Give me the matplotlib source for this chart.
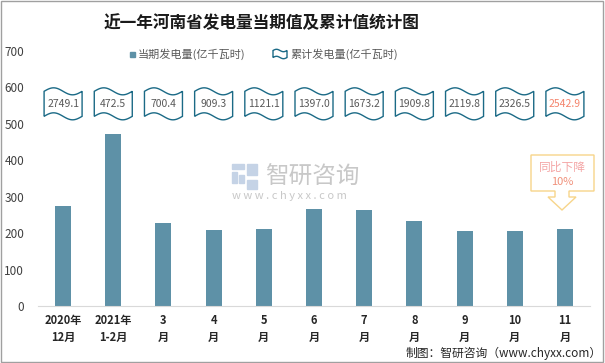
import numpy as np
import matplotlib
matplotlib.use('Agg')
import matplotlib.pyplot as plt
import matplotlib.transforms as transforms
from matplotlib.patches import Polygon, Rectangle

plt.rcParams['font.family'] = ['Noto Sans CJK SC', 'DejaVu Sans']

# data
months = ['2020年\n12月', '2021年\n1-2月', '3\n月', '4\n月', '5\n月', '6\n月',
          '7\n月', '8\n月', '9\n月', '10\n月', '11\n月']
current = [275.4, 472.5, 227.9, 208.9, 211.8, 266.3, 264.5, 233.6, 206.5, 206.7, 212.5]
cumulative = ['2749.1', '472.5', '700.4', '909.3', '1121.1', '1397.0', '1673.2',
              '1909.8', '2119.8', '2326.5', '2542.9']

W, H = 605, 363
fig = plt.figure(figsize=(W / 100, H / 100), dpi=100)

def fx(px):
    return px / W

def fy(py):
    return 1 - py / H

ax = fig.add_axes([fx(38), fy(306), fx(590) - fx(38), fy(51) - fy(306)])
x = np.arange(len(months))
ax.bar(x, current, width=0.32, color='#5e91a7', zorder=2)
ax.set_xlim(-0.5, len(months) - 0.5)
ax.set_ylim(0, 700)
ax.set_yticks(range(0, 701, 100))
ax.set_xticks(x)
ax.set_xticklabels(months, fontsize=8, fontweight='bold', color='#262626', linespacing=1.35)
ax.tick_params(axis='y', length=0, labelsize=8.5, labelcolor='#404040', pad=10)
ax.tick_params(axis='x', length=0, pad=6)
for s in ['top', 'right', 'left']:
    ax.spines[s].set_visible(False)
ax.spines['bottom'].set_color('#d9d9d9')

# flag shaped labels for cumulative values
def flag_verts(w, h, a, n=40):
    t = np.linspace(0, 1, n)
    xs = -w / 2 + w * t
    top = h / 2 + a * np.sin(2 * np.pi * t)
    bot = -h / 2 + a * np.sin(2 * np.pi * t)
    return np.vstack([np.column_stack([xs, top]), np.column_stack([xs[::-1], bot[::-1]])])

fv = flag_verts(0.38, 0.25, 0.035)
for i, v in enumerate(cumulative):
    tr = fig.dpi_scale_trans + transforms.ScaledTranslation(i, 555, ax.transData)
    ax.add_patch(Polygon(fv, closed=True, facecolor='white', edgecolor='#1b6a86',
                         linewidth=1, transform=tr, zorder=3, clip_on=False))
    col = '#f4846c' if i == len(cumulative) - 1 else '#595959'
    ax.text(i, 555, v, ha='center', va='center', fontsize=7.5, color=col, zorder=4)

# title
fig.text(fx(262), fy(23), '近一年河南省发电量当期值及累计值统计图', ha='center', va='center',
         fontsize=12, fontweight='bold', color='#1a1a1a')

# legend
fig.patches.append(Rectangle((fx(130), fy(57)), fx(5), fy(52) - fy(57), color='#5e91a7',
                             transform=fig.transFigure))
fig.text(fx(138), fy(54), '当期发电量(亿千瓦时)', ha='left', va='center', fontsize=8, color='#595959')
lv = flag_verts(0.14, 0.07, 0.012)
tr = fig.dpi_scale_trans + transforms.ScaledTranslation(fx(280), fy(54), fig.transFigure)
fig.patches.append(Polygon(lv, closed=True, facecolor='white', edgecolor='#1b6a86',
                           linewidth=1, transform=tr))
fig.text(fx(290), fy(54), '累计发电量(亿千瓦时)', ha='left', va='center', fontsize=8, color='#595959')

# annotation box
box = [(531, 155), (594, 155), (594, 191), (569, 191), (569, 197), (576, 197),
       (562, 210), (548, 197), (555, 197), (555, 191), (531, 191)]
fig.patches.append(Polygon([(fx(a), fy(b)) for a, b in box], closed=True, facecolor='white',
                           edgecolor='#f7d58a', linewidth=1, transform=fig.transFigure, zorder=5))
fig.text(fx(562), fy(167), '同比下降', ha='center', va='center', fontsize=8.5, color='#f4a6a6', zorder=6)
fig.text(fx(562), fy(182), '10%', ha='center', va='center', fontsize=8, color='#f0907a', zorder=6)

# watermark
for (a, b, w, h) in [(232, 164, 12, 5), (232, 172, 5, 11), (239, 175, 5, 8),
                     (247, 164, 10, 11), (247, 180, 10, 9)]:
    fig.patches.append(Rectangle((fx(a), fy(b + h)), fx(w), fy(b) - fy(b + h),
                                 color='#c5d3e6', transform=fig.transFigure, zorder=1))
fig.text(fx(265), fy(177), '智研咨询', ha='left', va='center', fontsize=17, color='#c8c8c8', zorder=1)
fig.text(fx(232), fy(196), 'w w w . c h y x x . c o m', ha='left', va='center', fontsize=8,
         color='#c8c8c8', zorder=1)

# footer
fig.text(fx(602), fy(353), '制图：智研咨询（www.chyxx.com）', ha='right', va='center',
         fontsize=8.5, color='#262626')

# frame
fig.patches.append(Rectangle((0.001, 0.002), 0.996, 0.995, fill=False, edgecolor='#a0a0a0',
                             linewidth=1, transform=fig.transFigure))

fig.savefig('out.png', dpi=100)
